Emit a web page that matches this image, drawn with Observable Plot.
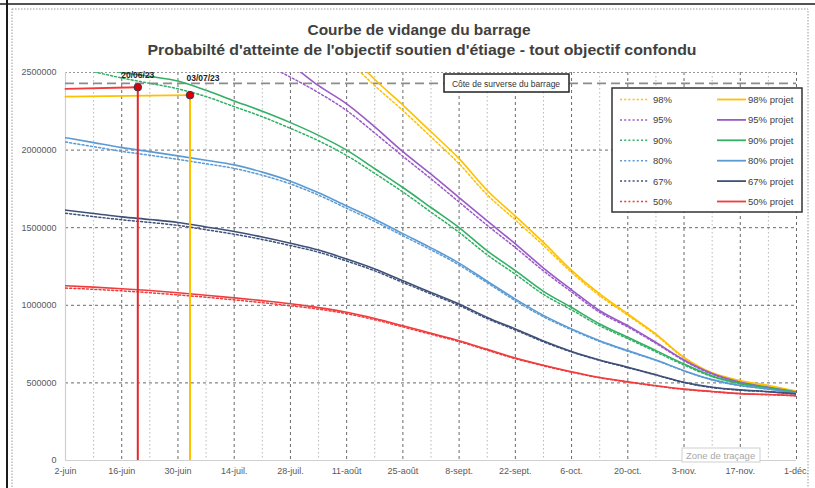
<!DOCTYPE html>
<html><head><meta charset="utf-8">
<script src="https://cdn.jsdelivr.net/npm/d3@7"></script>
<script src="https://cdn.jsdelivr.net/npm/@observablehq/plot@0.6"></script>
<style>
body{margin:0;background:#fff;}
#wrap{position:relative;width:815px;height:488px;overflow:hidden;background:#fff;}
</style></head><body><div id="wrap"></div>
<script>
// ---- data ----
const weeks = ["2023-06-02","2023-06-09","2023-06-16","2023-06-23","2023-06-30","2023-07-07","2023-07-14","2023-07-21","2023-07-28","2023-08-04","2023-08-11","2023-08-18","2023-08-25","2023-09-01","2023-09-08","2023-09-15","2023-09-22","2023-09-29","2023-10-06","2023-10-13","2023-10-20","2023-10-27","2023-11-03","2023-11-10","2023-11-17","2023-11-24","2023-12-01"];
const tickDates = ["2023-06-02","2023-06-16","2023-06-30","2023-07-14","2023-07-28","2023-08-11","2023-08-25","2023-09-08","2023-09-22","2023-10-06","2023-10-20","2023-11-03","2023-11-17","2023-12-01"];
const tickLabels = ["2-juin","16-juin","30-juin","14-juil.","28-juil.","11-août","25-août","8-sept.","22-sept.","6-oct.","20-oct.","3-nov.","17-nov.","1-déc."];
const yTicks = [0,500000,1000000,1500000,2000000,2500000];
const yLabels = ["0","500000","1000000","1500000","2000000","2500000"];

// values in thousands of m3
const v98  = [null,null,null,null,null,null,null,null,null,null,2590,2415,2255,2085,1912,1712,1550,1385,1212,1062,936,808,660,562,512,481,444];
const p98  = [null,null,null,null,null,null,null,null,null,null,2640,2455,2290,2118,1945,1740,1575,1405,1225,1073,944,815,665,565,515,483,446];
const v95  = [null,null,null,null,null,null,null,2560,2470,2370,2255,2110,1960,1815,1665,1515,1372,1222,1086,955,860,755,643,556,501,470,438];
const p95  = [null,null,null,null,null,null,null,2640,2550,2415,2298,2150,1990,1845,1694,1544,1396,1240,1100,965,869,761,648,560,504,472,440];
const v90  = [2545,2505,2465,2430,2395,2345,2280,2215,2140,2060,1965,1850,1730,1600,1470,1325,1200,1070,970,868,785,700,615,540,493,465,438];
const p90  = [2570,2540,2500,2475,2445,2385,2317,2250,2177,2095,2000,1880,1759,1630,1501,1351,1223,1090,986,880,794,708,622,545,497,468,440];
const v80  = [2052,2022,1992,1967,1940,1912,1882,1838,1782,1710,1625,1540,1448,1357,1260,1145,1030,926,842,767,704,645,577,519,482,460,432];
const p80  = [2080,2048,2016,1990,1963,1935,1905,1858,1800,1725,1640,1555,1462,1370,1272,1155,1040,935,848,772,708,648,579,521,483,461,433];
const v67  = [1593,1572,1551,1534,1515,1487,1458,1424,1385,1342,1285,1222,1147,1073,999,914,841,765,699,645,598,551,502,470,453,443,428];
const p67  = [1613,1592,1570,1553,1534,1505,1475,1440,1400,1356,1298,1234,1158,1083,1008,922,848,770,703,648,601,553,504,472,455,444,429];
const v50  = [1111,1103,1093,1081,1067,1052,1035,1017,997,975,946,907,861,813,766,711,656,610,569,533,505,480,458,443,430,424,417];
const p50  = [1126,1117,1107,1095,1081,1065,1048,1030,1010,985,955,915,868,820,772,716,660,614,572,535,507,482,460,445,431,425,418];

const obsRedDates = ["2023-06-02","2023-06-20"];
const obsRedValues = [2395000, 2405000];
const obsYelDates = ["2023-06-02","2023-07-03"];
const obsYelValues = [2345000, 2354000];
const markLabels = ["20/06/23","03/07/23"];
const spillLevel = 2430000;
const spillLabel = "Côte de surverse du barrage";

const names = ["98%","95%","90%","80%","67%","50%"];
const colors = ["#FFC000","#9A5BC8","#33B066","#5B9BD5","#3F5179","#F03C3C"];
const statSeries = [v98,v95,v90,v80,v67,v50];
const projSeries = [p98,p95,p90,p80,p67,p50];

// ---- build ----
const parse = d3.utcParse("%Y-%m-%d");
const W = weeks.map(parse);
const T = tickDates.map(parse);
const labelMap = new Map(T.map((d,i)=>[+d, tickLabels[i]]));
const yLabelMap = new Map(yTicks.map((d,i)=>[d, yLabels[i]]));
const toRows = arr => arr.map((v,i)=>({date:W[i], value: v==null?null:v*1000})).filter(d=>d.value!=null);
const majorX = T.slice(1);
const minorX = W.filter((d,i)=> i%2===1);
const gridY = yTicks.filter(d=>d>0 && d<2500000);

const marks = [
  Plot.ruleX(minorX, {stroke:"#b8b8b8", strokeDasharray:"1.5,2.5", strokeWidth:1}),
  Plot.ruleX(majorX, {stroke:"#6a6a6a", strokeDasharray:"3,3", strokeWidth:1}),
  Plot.ruleY(gridY, {stroke:"#6a6a6a", strokeDasharray:"3,3", strokeWidth:1}),
  Plot.ruleY([2500000], {stroke:"#9a9a9a", strokeDasharray:"2,2", strokeWidth:1}),
  Plot.ruleY([0], {stroke:"#d0d0d0", strokeWidth:1.2}),
  Plot.ruleX([T[0]], {stroke:"#d0d0d0", strokeWidth:1.2}),
  Plot.ruleY([spillLevel], {stroke:"#8c8c8c", strokeDasharray:"9,5", strokeWidth:1.6}),
];
statSeries.forEach((s,k)=>{
  marks.push(Plot.line(toRows(s), {x:"date", y:"value", stroke:colors[k], strokeWidth:1.5, strokeDasharray:"2,2.2", curve:"monotone-x", clip:"frame"}));
});
projSeries.forEach((s,k)=>{
  marks.push(Plot.line(toRows(s), {x:"date", y:"value", stroke:colors[k], strokeWidth:1.6, curve:"monotone-x", clip:"frame"}));
});
const obsR = obsRedDates.map((d,i)=>({date:parse(d), value:obsRedValues[i]}));
const obsY = obsYelDates.map((d,i)=>({date:parse(d), value:obsYelValues[i]}));
marks.push(
  Plot.line(obsR, {x:"date", y:"value", stroke:"#F03C3C", strokeWidth:1.8}),
  Plot.line(obsY, {x:"date", y:"value", stroke:"#FFC000", strokeWidth:1.8}),
  Plot.ruleX([obsR[1]], {x:"date", y1:0, y2:"value", stroke:"#E8262A", strokeWidth:2}),
  Plot.ruleX([obsY[1]], {x:"date", y1:0, y2:"value", stroke:"#FFC000", strokeWidth:2}),
  Plot.dot([obsR[1], obsY[1]], {x:"date", y:"value", r:3.8, fill:"#E00000", stroke:"#3a3a5a", strokeWidth:1}),
  Plot.text([obsR[1]], {x:"date", y:"value", text:()=>markLabels[0], dy:-12, fontWeight:"bold", fontSize:8.5, fill:"#222"}),
  Plot.text([obsY[1]], {x:"date", y:"value", text:()=>markLabels[1], dy:-17, dx:13, fontWeight:"bold", fontSize:8.5, fill:"#222"}),
  Plot.axisX({ticks:T, tickFormat:d=>labelMap.get(+d), tickSize:0, tickPadding:7, fontSize:9, fill:"#595959", label:null}),
  Plot.axisY({ticks:yTicks, tickFormat:d=>yLabelMap.get(d), tickSize:0, tickPadding:9, fontSize:9, fill:"#595959", label:null})
);

const svg = Plot.plot({
  width:815, height:488,
  marginLeft:65, marginRight:19, marginTop:72, marginBottom:28,
  x:{type:"utc", domain:[W[0], W[W.length-1]], label:null},
  y:{domain:[0,2500000], label:null},
  style:{fontFamily:"'Liberation Sans', Arial, sans-serif", background:"#fff"},
  marks
});
document.getElementById("wrap").appendChild(svg);

// ---- decorations ----
const g = d3.select(svg);
const font = "'Liberation Sans', Arial, sans-serif";
// chart area frame
g.append("rect").attr("x",12).attr("y",9).attr("width",796).attr("height",490)
  .attr("fill","none").attr("stroke","#9a9a9a").attr("stroke-dasharray","1.5,1.5");
g.append("line").attr("x1",7).attr("x2",7).attr("y1",0).attr("y2",488).attr("stroke","#1a1a1a").attr("stroke-width",2);
g.append("line").attr("x1",0).attr("x2",815).attr("y1",4).attr("y2",4).attr("stroke","#1a1a1a").attr("stroke-width",1.5);

// titles
g.append("text").attr("x",419).attr("y",35).attr("text-anchor","middle")
  .attr("font-family",font).attr("font-weight","bold").attr("font-size",15).attr("fill","#404040")
  .attr("textLength",223).attr("lengthAdjust","spacingAndGlyphs")
  .text("Courbe de vidange du barrage");
g.append("text").attr("x",422).attr("y",55).attr("text-anchor","middle")
  .attr("font-family",font).attr("font-weight","bold").attr("font-size",15).attr("fill","#404040")
  .attr("textLength",549).attr("lengthAdjust","spacingAndGlyphs")
  .text("Probabilté d'atteinte de l'objectif soutien d'étiage - tout objectif confondu");

// spill label box
g.append("rect").attr("x",444).attr("y",74).attr("width",125).attr("height",18)
  .attr("fill","#fff").attr("stroke","#222").attr("stroke-width",1.5);
g.append("text").attr("x",506).attr("y",86.5).attr("text-anchor","middle")
  .attr("font-family",font).attr("font-size",8.5).attr("fill","#333").text(spillLabel);

// legend
const lg = g.append("g").attr("text-anchor","start");
lg.append("rect").attr("x",612).attr("y",88).attr("width",190).attr("height",124)
  .attr("fill","#fff").attr("stroke","#333").attr("stroke-width",1.5);
names.forEach((n,k)=>{
  const y = 99.5 + k*20.4;
  lg.append("line").attr("x1",620).attr("x2",648).attr("y1",y).attr("y2",y)
    .attr("stroke",colors[k]).attr("stroke-width",1.5).attr("stroke-dasharray","2,2.2");
  lg.append("text").attr("x",653).attr("y",y+3.5).attr("text-anchor","start").attr("font-family",font).attr("font-size",9.5).attr("fill","#404040").text(n);
  lg.append("line").attr("x1",717).attr("x2",746).attr("y1",y).attr("y2",y)
    .attr("stroke",colors[k]).attr("stroke-width",1.8);
  lg.append("text").attr("x",748).attr("y",y+3.5).attr("text-anchor","start").attr("font-family",font).attr("font-size",9.5).attr("fill","#404040").text(n+" projet");
});

// tooltip
g.append("rect").attr("x",682).attr("y",448).attr("width",78).attr("height",14)
  .attr("fill","#fff").attr("stroke","#cfcfcf");
g.append("text").attr("x",686).attr("y",458.5).attr("text-anchor","start").attr("font-family",font).attr("font-size",9.5).attr("fill","#a8a8a8").text("Zone de traçage");
</script></body></html>
